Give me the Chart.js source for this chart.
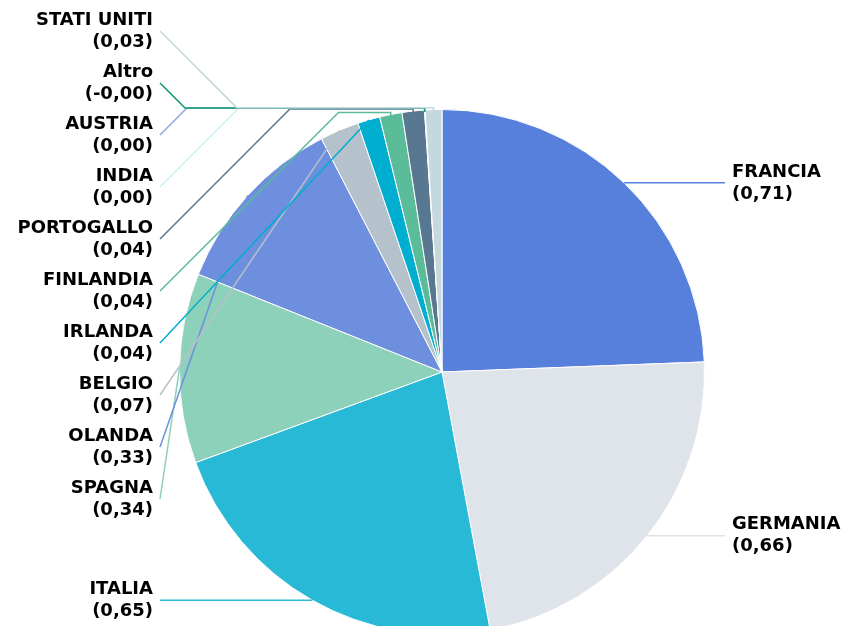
<!DOCTYPE html>
<html>
<head>
<meta charset="utf-8">
<script src="https://cdn.jsdelivr.net/npm/chart.js@4.4.1/dist/chart.umd.min.js"></script>
<style>
  html, body { margin: 0; padding: 0; background: #fff; overflow: hidden; }
  #wrap { width: 846px; height: 744px; position: relative; }
</style>
</head>
<body>
<div id="wrap"><canvas id="pieChart"></canvas></div>
<script>
// values (clockwise from 12 o'clock)
const countries = ['FRANCIA', 'GERMANIA', 'ITALIA', 'SPAGNA', 'OLANDA', 'BELGIO', 'IRLANDA',
                   'FINLANDIA', 'PORTOGALLO', 'INDIA', 'AUSTRIA', 'Altro', 'STATI UNITI'];
const values = [0.71, 0.66, 0.65, 0.34, 0.33, 0.07, 0.04, 0.04, 0.04, 0.00, 0.00, -0.001, 0.03];
const colors = ['#5680db', '#dfe3ea', '#27b9d5', '#8dd1ba', '#6e8fdd', '#b5c2cc', '#00aecf',
                '#5bbc9a', '#587891', '#cdeff2', '#8fa8e5', '#0f9d6e', '#c5d8dd'];

function fmt(v) {
  return '(' + v.toFixed(2).replace('.', ',') + ')';
}

const labelPlugin = {
  id: 'sideLabels',
  afterDatasetsDraw(chart) {
    const ctx = chart.ctx;
    const arcs = chart.getDatasetMeta(0).data;
    const leftX = 153, rightX = 732, lineH = 22, step = 52;
    const pts = arcs.map(a => {
      const mid = (a.startAngle + a.endAngle) / 2;
      return { x: a.x + Math.cos(mid) * a.outerRadius, y: a.y + Math.sin(mid) * a.outerRadius };
    });
    // left-hand labels stacked from the top, in reverse slice order;
    // the low ones stay level with their slice
    const place = [];
    let stackY = 31;
    for (let i = arcs.length - 1; i >= 0; i--) {
      const p = pts[i], a = arcs[i];
      if (p.x >= a.x + 1) {
        place[i] = { side: 'right', y: p.y };
      } else if (p.y > a.y + a.outerRadius / 2) {
        place[i] = { side: 'left', y: p.y };
      } else {
        place[i] = { side: 'left', y: stackY };
        stackY += step;
      }
    }
    ctx.save();
    ctx.lineWidth = 1.5;
    place.forEach((pl, i) => {
      const p = pts[i];
      ctx.strokeStyle = colors[i];
      ctx.beginPath();
      if (pl.side === 'left') {
        const ax = leftX + 7, ay = pl.y;
        ctx.moveTo(ax, ay);
        const dy = ay - p.y;
        if (Math.abs(dy) < 4) {
          ctx.lineTo(p.x, p.y);
        } else if (ax + Math.abs(dy) < p.x - 2) {
          const ey = p.y - 2;
          ctx.lineTo(ax + Math.abs(ay - ey), ey);
          ctx.lineTo(p.x, ey);
          ctx.lineTo(p.x, p.y + 2);
        } else {
          ctx.lineTo(p.x, p.y);
        }
      } else {
        ctx.moveTo(p.x, p.y);
        ctx.lineTo(rightX - 7, p.y);
      }
      ctx.stroke();
    });
    ctx.fillStyle = '#000';
    ctx.font = 'bold 18px "DejaVu Sans", Verdana, sans-serif';
    ctx.textBaseline = 'middle';
    place.forEach((pl, i) => {
      const x = pl.side === 'left' ? leftX : rightX;
      ctx.textAlign = pl.side === 'left' ? 'right' : 'left';
      ctx.fillText(countries[i], x, pl.y - lineH / 2);
      ctx.fillText(fmt(values[i]), x, pl.y + lineH / 2);
    });
    ctx.restore();
  }
};

new Chart(document.getElementById('pieChart'), {
  type: 'pie',
  data: {
    labels: countries,
    datasets: [{
      data: values,
      backgroundColor: colors,
      borderColor: '#ffffff',
      borderWidth: 1
    }]
  },
  options: {
    responsive: true,
    maintainAspectRatio: false,
    animation: false,
    layout: { padding: { left: 179, right: 141, top: 109, bottom: 109 } },
    plugins: {
      legend: { display: false },
      tooltip: { enabled: false }
    }
  },
  plugins: [labelPlugin]
});
</script>
</body>
</html>
